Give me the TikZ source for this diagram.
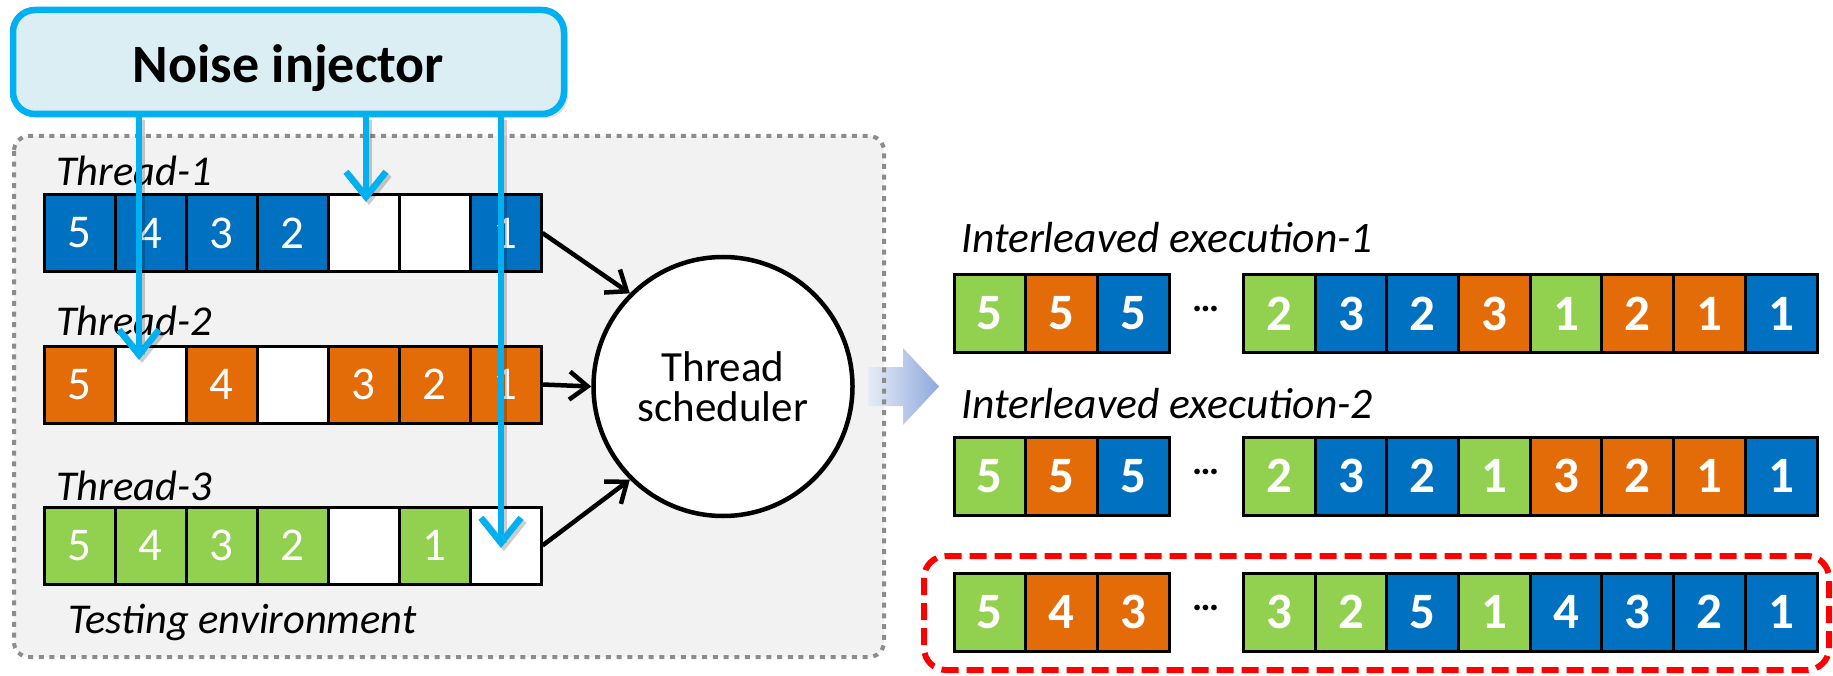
\documentclass[tikz,border=0pt]{standalone}
\usepackage{fontspec}
\setmainfont{Carlito}
\usetikzlibrary{arrows.meta,shadows,calc}
\definecolor{tblue}{HTML}{0070C0}
\definecolor{torange}{HTML}{E36C09}
\definecolor{tgreen}{HTML}{92D050}
\definecolor{ncyan}{HTML}{00B0F0}
\definecolor{nfill}{HTML}{DAEEF3}
\definecolor{envfill}{HTML}{F2F2F2}
\definecolor{envline}{HTML}{8C8C8C}
\definecolor{arrL}{HTML}{E6ECF7}
\definecolor{arrR}{HTML}{8EA9DB}
\definecolor{hlred}{HTML}{FF0000}
\begin{document}
\begin{tikzpicture}[x=1pt,y=-1pt,
  lcell/.style={draw=black, line width=3pt, minimum width=71pt, minimum height=77pt,
    inner sep=0pt, text=white, font=\fontsize{47}{47}\selectfont},
  rcell/.style={draw=black, line width=3pt, minimum width=71.7pt, minimum height=78pt,
    inner sep=0pt, text=white, font=\fontsize{51}{51}\selectfont\bfseries},
  lbl/.style={inner sep=0pt, font=\fontsize{42.5}{42.5}\selectfont\itshape},
  rlbl/.style={inner sep=0pt, font=\fontsize{43.5}{43.5}\selectfont\itshape},
  flow/.style={line width=4.5pt, -{Straight Barb[length=18pt,width=28pt]}},
  cyanarrow/.style={draw=ncyan, line width=6.5pt, -{Straight Barb[length=25pt,width=40pt]}},
  cyanshadow/.style={draw=black, opacity=0.2, line width=6.5pt, -{Straight Barb[length=25pt,width=40pt]}},
  dots/.style={inner sep=0pt, font=\fontsize{38}{38}\selectfont\bfseries}
]
\useasboundingbox (0,0) rectangle (1833,676);

% testing environment background
\fill[envfill, rounded corners=15pt] (14,136) rectangle (884,657);
% big gradient arrow
\shade[left color=arrL, right color=arrR] (868,367) -- (903,367) -- (903,348) -- (939,386.5)
  -- (903,425) -- (903,406) -- (868,406) -- cycle;
% testing environment border
\draw[envline, line width=4pt, dash pattern=on 5pt off 5.7pt, rounded corners=15pt]
  (14,136) rectangle (884,657);

% thread rows
\foreach \col/\num [count=\i] in {tblue/5,tblue/4,tblue/3,tblue/2,white/{},white/{},tblue/1}
  \node[lcell, fill=\col] (t1c\i) at ({44+71*(\i-0.5)}, 233) {\num};
\foreach \col/\num [count=\i] in {torange/5,white/{},torange/4,white/{},torange/3,torange/2,torange/1}
  \node[lcell, fill=\col] (t2c\i) at ({44+71*(\i-0.5)}, 384.5) {\num};
\foreach \col/\num [count=\i] in {tgreen/5,tgreen/4,tgreen/3,tgreen/2,white/{},tgreen/1,white/{}}
  \node[lcell, fill=\col] (t3c\i) at ({44+71*(\i-0.5)}, 545.5) {\num};

\node[lbl, anchor=base west] (th1) at (56,186) {Thread-1};
\node[lbl, anchor=base west] (th2) at (56,335) {Thread-2};
\node[lbl, anchor=base west] (th3) at (56,500) {Thread-3};
\node[lbl, anchor=base west] (envlbl) at (68,633) {Testing environment};

% scheduler
\node[circle, draw=black, line width=4.5pt, fill=white, minimum size=259pt, inner sep=0pt,
  align=center, font=\fontsize{43}{40}\selectfont] (sched) at (723,386.5) {Thread\\scheduler};

\draw[flow] (t1c7.east) -- (sched.135);
\draw[flow] (t2c7.east) -- (sched.west);
\draw[flow] (t3c7.east) -- (sched.225);

% interleaved executions
\node[rlbl, anchor=base west] (ie1) at (961,253) {Interleaved execution-1};
\node[rlbl, anchor=base west] (ie2) at (961,418) {Interleaved execution-2};

\foreach \col/\num [count=\i] in {tgreen/5,torange/5,tblue/5}
  \node[rcell, fill=\col] (r1a\i) at ({954+71.7*(\i-0.5)}, 313.5) {\num};
\foreach \col/\num [count=\i] in {tgreen/2,tblue/3,tblue/2,torange/3,tgreen/1,torange/2,torange/1,tblue/1}
  \node[rcell, fill=\col] (r1b\i) at ({1243.4+71.7*(\i-0.5)}, 313.5) {\num};
\node[dots] (d1) at (1206,309) {…};

\foreach \col/\num [count=\i] in {tgreen/5,torange/5,tblue/5}
  \node[rcell, fill=\col] (r2a\i) at ({954+71.7*(\i-0.5)}, 476) {\num};
\foreach \col/\num [count=\i] in {tgreen/2,tblue/3,tblue/2,tgreen/1,torange/3,torange/2,torange/1,tblue/1}
  \node[rcell, fill=\col] (r2b\i) at ({1243.4+71.7*(\i-0.5)}, 476) {\num};
\node[dots] (d2) at (1206,471.5) {…};

\foreach \col/\num [count=\i] in {tgreen/5,torange/4,torange/3}
  \node[rcell, fill=\col] (r3a\i) at ({954+71.7*(\i-0.5)}, 612) {\num};
\foreach \col/\num [count=\i] in {tgreen/3,tgreen/2,tblue/5,tgreen/1,tblue/4,tblue/3,tblue/2,tblue/1}
  \node[rcell, fill=\col] (r3b\i) at ({1243.4+71.7*(\i-0.5)}, 612) {\num};
\node[dots] (d3) at (1206,607.5) {…};

% highlight box
\draw[hlred, line width=6pt, dash pattern=on 17pt off 8pt, rounded corners=22pt]
  (924,556) rectangle (1829,670);

% noise injector
\node[draw=ncyan, line width=6.5pt, fill=nfill, rounded corners=22pt, minimum width=551pt,
  minimum height=104pt, inner sep=0pt, font=\fontsize{54}{54}\selectfont\bfseries,
  drop shadow={shadow xshift=4pt, shadow yshift=-4pt, opacity=0.25}] (noise) at (288.5,62)
  {\raisebox{-6pt}[\height][\depth]{Noise injector}};

\coordinate (p1) at (139,360);
\coordinate (p2) at (366,202);
\coordinate (p3) at (501,548);
\begin{scope}[transform canvas={xshift=3pt,yshift=-3pt}]
  \draw[cyanshadow] (noise.south -| p1) -- (p1);
  \draw[cyanshadow] (noise.south -| p2) -- (p2);
  \draw[cyanshadow] (noise.south -| p3) -- (p3);
\end{scope}
\draw[cyanarrow] ([yshift=3pt]noise.south -| p1) -- (p1);
\draw[cyanarrow] ([yshift=3pt]noise.south -| p2) -- (p2);
\draw[cyanarrow] ([yshift=3pt]noise.south -| p3) -- (p3);
\end{tikzpicture}
\end{document}
